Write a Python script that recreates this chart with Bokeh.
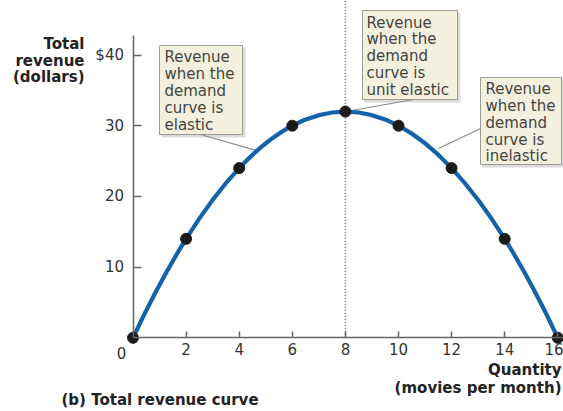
import numpy as np
from bokeh.plotting import figure
from bokeh.models import Range1d, FixedTicker
from bokeh.core.properties import value
from bokeh.embed import file_html
from bokeh.resources import INLINE

# ---------------- data ----------------
quantity = [0, 2, 4, 6, 8, 10, 12, 14, 16]
revenue = [0, 14, 24, 30, 32, 30, 24, 14, 0]
x_ticks = [2, 4, 6, 8, 10, 12, 14, 16]
y_ticks = [10, 20, 30, 40]
y_tick_overrides = {40: "$40"}
origin_label = "0"
y_title = ["Total", "revenue", "(dollars)"]
x_title = ["Quantity", "(movies per month)"]
panel_title = "(b) Total revenue curve"
note_elastic = ["Revenue", "when the", "demand", "curve is", "elastic"]
note_unit = ["Revenue", "when the", "demand", "curve is", "unit elastic"]
note_inelastic = ["Revenue", "when the", "demand", "curve is", "inelastic"]

# ---------------- layout (picture pixels) ----------------
W, H = 563, 411
ORG = 0
X0, XS = 132.5, 26.55   # picture x of Q=0, px per unit
Y0, YS = 337.3, 7.07    # picture y of $0, px per dollar
BL = -5                 # baseline correction for text glyphs


def dx(px):
    return (px - X0) / XS


def dy(py):
    return (Y0 - py) / YS


def ty(py):
    return dy(py + BL)


FONT = "DejaVu Sans"
TXT = "#444444"
AX = "#666666"

p = figure(width=W, height=H,
           x_range=Range1d(dx(ORG), dx(ORG + W)),
           y_range=Range1d(dy(ORG + H), dy(ORG)),
           output_backend="svg", toolbar_location=None, min_border=0)
p.outline_line_color = None
p.grid.visible = False
p.background_fill_color = "white"
p.border_fill_color = "white"

# axes at the data origin
xa = p.xaxis[0]
ya = p.yaxis[0]
xa.fixed_location = 0
ya.fixed_location = 0
xa.bounds = (0, dx(ORG + W))
ya.bounds = (0, dy(35))
xa.ticker = FixedTicker(ticks=x_ticks)
ya.ticker = FixedTicker(ticks=y_ticks)
ya.major_label_overrides = y_tick_overrides
for a in (xa, ya):
    a.axis_line_color = AX
    a.axis_line_width = 1.5
    a.major_tick_line_color = AX
    a.major_tick_line_width = 1.5
    a.minor_tick_line_color = None
    a.major_tick_out = 0
    a.major_label_text_font = FONT
    a.major_label_text_font_size = "15px"
    a.major_label_text_color = "#333333"
xa.major_tick_in = 6
ya.major_tick_in = 8
xa.major_label_standoff = 5
ya.major_label_standoff = 9

# dotted line at the peak quantity
peak_q = quantity[int(np.argmax(revenue))]
p.segment(x0=[peak_q], y0=[0], x1=[peak_q], y1=[dy(ORG)],
          line_color="#666666", line_width=1.5, line_dash="1 2")

# note boxes (shadow + box)
boxes = [(159, 242, 45, 134), (362, 457, 10, 99), (480, 561, 77, 164)]
p.quad(left=[dx(b[0] + 2) for b in boxes], right=[dx(b[1] + 3) for b in boxes],
       top=[dy(b[2] + 2) for b in boxes], bottom=[dy(b[3] + 3) for b in boxes],
       fill_color="#999999", fill_alpha=0.35, line_color=None)
p.quad(left=[dx(b[0]) for b in boxes], right=[dx(b[1]) for b in boxes],
       top=[dy(b[2]) for b in boxes], bottom=[dy(b[3]) for b in boxes],
       fill_color="#F3F1DD", line_color="#9c9c92", line_width=1)

# leader lines
leaders = [((200, 134), (256, 150)), ((346, 111), (413, 99)), ((480, 128), (438, 148))]
p.segment(x0=[dx(a[0]) for a, b in leaders], y0=[dy(a[1]) for a, b in leaders],
          x1=[dx(b[0]) for a, b in leaders], y1=[dy(b[1]) for a, b in leaders],
          line_color="#8a8a8a", line_width=1.2)

# note texts
STEP = 16.9
for lines, left, base in [(note_elastic, 164, 61.7), (note_unit, 366, 27.0),
                          (note_inelastic, 485, 93.3)]:
    p.text(x=[dx(left)] * len(lines), y=[ty(base + i * STEP) for i in range(len(lines))],
           text=lines, text_font=value(FONT), text_font_size="15px",
           text_color=TXT, text_align="left", text_baseline="alphabetic")

# smooth total revenue curve (cubic Hermite through the data points)
q = np.array(quantity, dtype=float)
r = np.array(revenue, dtype=float)
m = np.gradient(r, q, edge_order=2)
h = np.diff(q)
p.bezier(x0=q[:-1], y0=r[:-1], x1=q[1:], y1=r[1:],
         cx0=q[:-1] + h / 3, cy0=r[:-1] + m[:-1] * h / 3,
         cx1=q[1:] - h / 3, cy1=r[1:] - m[1:] * h / 3,
         line_color="#1562AA", line_width=4.2, line_cap="round")
p.scatter(x=quantity, y=revenue, size=11, fill_color="#1b1b1b", line_color="#1b1b1b")

# origin label
p.text(x=[dx(121)], y=[ty(357)], text=[origin_label], text_font=value(FONT),
       text_font_size="15px", text_color="#333333", text_align="center",
       text_baseline="alphabetic")

# y axis title
p.text(x=[dx(84)] * 3, y=[ty(48.3), ty(65), ty(81.5)], text=y_title,
       text_font=value(FONT), text_font_size="15px", text_font_style="bold",
       text_color="#222222", text_align="right", text_baseline="alphabetic")

# x axis title
p.text(x=[dx(561)] * 2, y=[ty(374.5), ty(392.5)], text=x_title,
       text_font=value(FONT), text_font_size="15px", text_font_style="bold",
       text_color="#222222", text_align="right", text_baseline="alphabetic")

# panel title
p.text(x=[dx(61)], y=[ty(404)], text=[panel_title],
       text_font=value(FONT), text_font_size="15px", text_font_style="bold",
       text_color="#222222", text_align="left", text_baseline="alphabetic")

open("out.html", "w").write(file_html(p, INLINE))
